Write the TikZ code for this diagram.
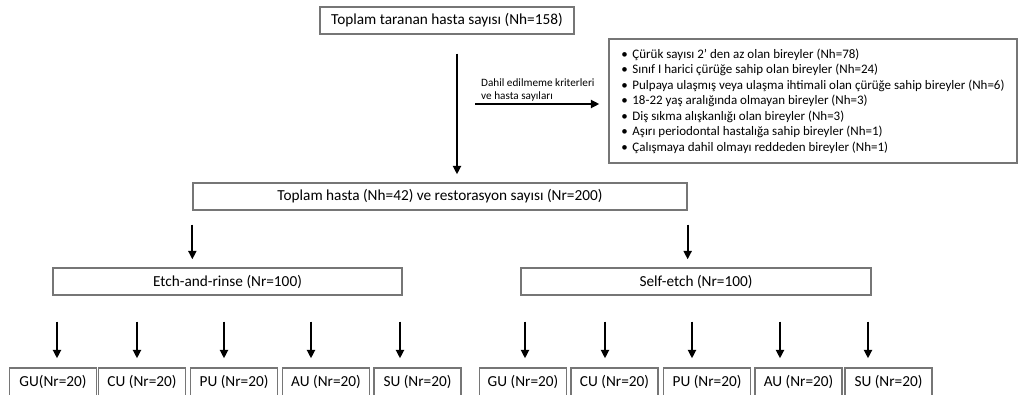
\documentclass[tikz,border=0pt]{standalone}
\usepackage{fontspec}
\setmainfont{Carlito}
\usetikzlibrary{arrows.meta}
\definecolor{boxgray}{RGB}{118,118,118}
\newcommand{\lstbullet}{\makebox[11pt][l]{\textbullet}}
\tikzset{
  flowbox/.style={draw=boxgray, line width=1.3pt, inner sep=0pt, minimum height=27pt},
  grpbox/.style={flowbox, minimum width=87pt, minimum height=28pt},
  flowarrow/.style={line width=2.2pt, -{Triangle[length=8.5pt, width=8pt]}}
}

\begin{document}
\begin{tikzpicture}[x=1pt, y=-1pt, font=\fontsize{15.3}{18}\selectfont]
    \useasboundingbox (0,0) rectangle (1018,394);

    % Nodes
    \node[flowbox, minimum width=254pt] (screened) at (447,20.5) {Toplam taranan hasta sayısı (Nh=158)};
    \node[flowbox, minimum width=408pt, minimum height=124pt, align=left,
          font=\fontsize{13}{15.5}\selectfont] (excl) at (813,101) {%
      \lstbullet Çürük sayısı 2’ den az olan bireyler (Nh=78)\\
      \lstbullet Sınıf I harici çürüğe sahip olan bireyler (Nh=24)\\
      \lstbullet Pulpaya ulaşmış veya ulaşma ihtimali olan çürüğe sahip bireyler (Nh=6)\\
      \lstbullet 18-22 yaş aralığında olmayan bireyler (Nh=3)\\
      \lstbullet Diş sıkma alışkanlığı olan bireyler (Nh=3)\\
      \lstbullet Aşırı periodontal hastalığa sahip bireyler (Nh=1)\\
      \lstbullet Çalışmaya dahil olmayı reddeden bireyler (Nh=1)};
    \node[flowbox, minimum width=494pt] (total) at (440,196.5) {Toplam hasta (Nh=42) ve restorasyon sayısı (Nr=200)};
    \node[flowbox, minimum width=349pt] (etch) at (227.5,281.5) {Etch-and-rinse (Nr=100)};
    \node[flowbox, minimum width=350pt] (selfetch) at (696,281.5) {Self-etch (Nr=100)};

    % Group boxes
    \foreach \cx/\nm/\lb in {53/eGU/{GU(Nr=20)}, 142/eCU/{CU (Nr=20)}, 234/ePU/{PU (Nr=20)},
                             326/eAU/{AU (Nr=20)}, 417.5/eSU/{SU (Nr=20)}}
      \node[grpbox] (\nm) at (\cx,382) {\lb};
    \foreach \cx/\nm/\lb in {523/sGU/{GU (Nr=20)}, 614.5/sCU/{CU (Nr=20)}, 707/sPU/{PU (Nr=20)},
                             798.5/sAU/{AU (Nr=20)}, 888.5/sSU/{SU (Nr=20)}}
      \node[grpbox] (\nm) at (\cx,382) {\lb};

    % Screening and exclusion
    \coordinate (topx) at (457,0);
    \draw[flowarrow, shorten <=19pt, shorten >=8pt] (topx |- screened.south) -- (topx |- total.north);
    \coordinate (branch) at (475,104);
    \draw[flowarrow, shorten >=9pt] (branch) -- (branch -| excl.west);
    \node[anchor=south west, align=left, inner sep=0pt,
          font=\fontsize{11.2}{13}\selectfont] (critlbl) at (481,102) {Dahil edilmeme kriterleri\\ve hasta sayıları};

    % Adhesive groups
    \draw[flowarrow, shorten <=14pt, shorten >=8pt] (total.south west) -- (total.south west |- etch.north);
    \draw[flowarrow, shorten <=14pt, shorten >=8pt] (total.south east) -- (total.south east |- selfetch.north);

    % Subgroups
    \foreach \ax/\nm in {57/eGU, 137/eCU, 224/ePU, 311/eAU, 400/eSU} {
      \coordinate (ar) at (\ax,0);
      \draw[flowarrow, shorten <=26pt, shorten >=9pt] (ar |- etch.south) -- (ar |- \nm.north);
    }
    \foreach \ax/\nm in {525/sGU, 605/sCU, 692/sPU, 780/sAU, 868/sSU} {
      \coordinate (ar) at (\ax,0);
      \draw[flowarrow, shorten <=26pt, shorten >=9pt] (ar |- selfetch.south) -- (ar |- \nm.north);
    }

\end{tikzpicture}
\end{document}
